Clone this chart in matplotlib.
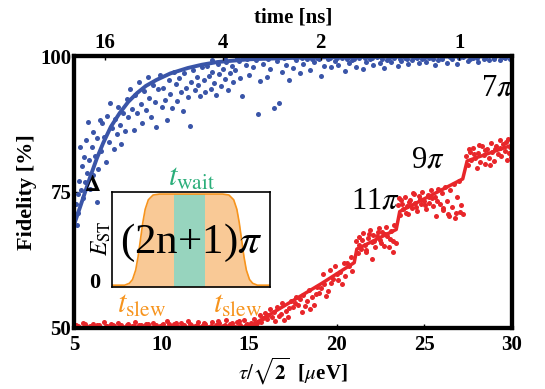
import numpy as np
import matplotlib.pyplot as plt

plt.rcParams['mathtext.fontset'] = 'stix'
plt.rcParams['font.family'] = ['Liberation Serif', 'DejaVu Serif']

# top axis: time [ns] ticks, tau scales as 1/sqrt(time)
time_ticks = [16, 4, 2, 1]
tau_per_ns = 27.0

# blue: fidelity vs tau (points)
blue_x = [5.05, 5.1, 5.15, 5.2, 5.25, 5.3, 5.35, 5.4, 5.45, 5.5, 5.55, 5.6, 5.7, 5.75, 5.8, 5.85, 5.9, 6.0, 6.05, 6.1,
          6.2, 6.3, 6.35, 6.45, 6.55, 6.6, 6.7, 6.8, 6.9, 7.0, 7.05, 7.15, 7.25, 7.35, 7.45, 7.5, 7.6, 7.7, 7.8, 7.9, 6.3,
          8.0, 8.1, 8.2, 8.3, 8.4, 8.5, 8.6, 8.7, 8.8, 8.9, 9.0, 9.1, 9.2, 9.3, 9.4, 9.5, 9.6, 9.7, 9.8, 9.9,
          10.0, 10.1, 10.2, 10.3, 10.4, 10.5, 10.6, 10.7, 10.8, 10.9, 11.0, 11.1, 11.2, 11.3, 11.4, 11.5, 11.6, 11.7,
          11.8, 11.9, 12.0,
          12.1, 12.2, 12.3, 12.4, 12.5, 12.6, 12.7, 12.8, 12.9, 13.0, 13.1, 13.2, 13.3, 13.4, 13.5, 13.6, 13.7, 13.8,
          13.9, 14.0, 14.1, 14.2, 14.4, 14.5, 14.6, 14.8, 15.0, 15.2, 15.5, 15.6, 15.8, 16.0, 16.2, 16.4, 16.6, 16.7,
          16.9, 17.1, 17.3, 17.5,
          17.7, 17.9, 18.1, 18.3, 18.5, 18.7, 18.9, 19.1, 19.3, 19.5, 19.7, 19.9, 20.1, 20.3, 20.5, 20.7, 20.9, 21.1,
          21.3, 21.5, 21.7, 21.9, 22.1, 22.3, 22.5, 22.7, 22.9, 23.1, 23.3, 23.5, 23.7, 23.9, 24.1, 24.3, 24.5, 24.7,
          24.9, 25.1, 25.3, 25.6, 25.8, 26.0, 26.3, 26.6, 26.9, 27.2, 27.5, 27.8, 28.1, 28.4, 28.7, 29.0, 29.3, 29.6,
          29.9,
          15.4, 16.1, 17.0, 18.0, 19.0, 20.0, 21.0, 22.0, 23.0, 24.0, 25.0, 26.0, 27.0, 28.0, 29.0, 29.5, 28.5, 27.6,
          26.5, 25.5, 24.6, 23.6, 22.6, 21.6, 20.6, 19.6, 18.6, 17.6, 16.6, 14.9, 14.3, 13.6, 12.9]
blue_y = [70.5, 72.8, 68.9, 74.6, 71.2, 77.1, 83.2, 75.3, 79.8, 73.9, 81.4, 76.8, 84.6, 78.5, 87.9, 80.9, 75.6, 83.3,
          78.2, 86.1, 81.7, 84.9, 79.3, 88.2, 82.6, 87.7, 85.1, 80.6, 89.0, 84.2, 91.4, 86.8, 82.9, 88.4, 85.7, 90.6,
          87.3, 83.8, 89.6, 86.2, 73.2,
          92.1, 88.7, 94.0, 90.3, 86.4, 92.8, 89.5, 95.2, 91.1, 87.6, 93.6, 90.0, 96.1, 92.3, 88.8, 94.7, 91.5, 86.9,
          93.9, 96.6, 90.7, 94.2, 92.0, 88.3, 95.6, 93.1, 90.4, 97.0, 94.8, 91.8, 95.9, 93.4, 89.9, 96.8, 94.1, 92.5,
          87.2, 95.3, 97.4, 93.8, 96.2,
          94.6, 92.7, 97.9, 95.5, 93.3, 98.2, 96.4, 94.0, 97.1, 95.0, 92.9, 98.5, 96.7, 94.4, 97.6, 95.8, 98.9, 93.7,
          96.9, 98.1, 95.3, 97.4, 99.0, 96.0, 92.6, 98.3, 96.5, 97.9, 89.3, 95.4, 98.6, 96.2, 97.7, 90.4, 99.1, 91.4,
          97.0, 98.4, 95.6, 97.8,
          99.2, 96.9, 98.6, 99.5, 97.5, 98.9, 99.6, 96.4, 98.2, 99.4, 97.9, 99.0, 98.3, 99.7, 97.2, 98.8, 99.3, 98.0,
          99.6, 97.6, 98.9, 99.4, 98.4, 99.8, 98.7, 97.8, 99.3, 98.9, 99.6, 98.2, 99.1, 99.7, 98.5, 99.3, 99.8, 98.7,
          99.5, 98.9, 99.6, 98.4, 99.2, 99.7, 98.8, 99.4, 98.6, 99.8, 99.1, 99.6, 98.9, 99.5, 99.2, 99.7, 99.3, 99.6,
          99.4,
          99.3, 99.5, 99.6, 99.7, 99.4, 99.6, 99.5, 99.6, 99.7, 99.5, 99.7, 99.4, 99.6, 99.7, 99.5, 99.8, 99.7, 99.5,
          99.8, 99.5, 99.6, 99.4, 99.5, 99.7, 99.5, 99.7, 99.4, 99.6, 99.7, 99.4, 99.6, 99.5, 99.2]

# blue fit curve
blue_fit_x = [5.0, 5.4, 5.9, 6.3, 6.66, 7.1, 7.6, 8.1, 8.6, 9.1, 9.7, 10.5, 11.5, 12.3, 13.2, 15.0, 18.0, 22.0, 26.0, 30.0]
blue_fit_y = [69.0, 72.8, 77.6, 81.2, 84.0, 87.0, 89.5, 91.6, 93.2, 94.5, 95.6, 96.8, 97.8, 98.4, 98.9, 99.4, 99.7,
              99.85, 99.9, 99.95]

# red: fidelity vs tau (points)
red_x = [5.1, 5.3, 5.5, 5.7, 5.9, 6.1, 6.3, 6.5, 6.7, 6.9, 7.1, 7.3, 7.5, 7.7, 7.9, 8.1, 8.3, 8.5, 8.7, 8.9, 9.1,
         9.3, 9.5, 9.7, 9.9, 10.1, 10.3, 10.5, 10.7, 10.9, 11.1, 11.3, 11.5, 11.7, 11.9, 12.1, 12.3, 12.5, 12.7,
         12.9, 13.1, 13.3, 13.5, 13.7, 13.9, 14.1, 14.3, 14.5, 14.7, 14.9,
         5.2, 5.6, 6.0, 6.4, 6.8, 7.2, 7.6, 8.0, 8.4, 8.8, 9.2, 9.6, 10.0, 10.4, 10.8, 11.2, 11.6, 12.0, 12.4, 12.8,
         13.2, 13.6, 14.0, 14.4, 14.8,
         15.1, 15.3, 15.4, 15.6, 15.7, 15.9, 16.0, 16.2, 16.3, 16.5, 16.6, 16.8, 16.9, 17.1, 17.2, 17.4, 17.5, 17.7,
         17.8, 18.0, 18.1, 18.3, 18.4, 18.6, 18.7, 18.9, 19.0, 19.2, 19.3, 19.5, 19.6, 19.8, 19.9, 20.1, 20.2, 20.4,
         20.5, 20.7, 20.8, 20.9, 17.0, 18.5, 19.4,
         15.5, 15.8, 16.1, 16.4, 16.7, 17.3, 17.6, 17.9, 18.2, 18.8, 19.1, 19.7, 20.0, 20.3, 20.6,
         21.1, 21.2, 21.3, 21.4, 21.5, 21.6, 21.7, 21.8, 21.9, 22.0, 22.1, 22.2, 22.3, 22.4, 22.5, 22.6, 22.7, 22.8,
         22.9, 23.0, 23.1, 23.2, 23.3, 23.4, 22.0, 23.2,
         21.25, 21.45, 21.65, 21.85, 22.15, 22.35, 22.55, 22.75, 23.05,
         23.5, 23.6, 23.7, 23.8, 23.9, 24.0, 24.1, 24.2, 24.3, 24.4, 24.5, 24.6, 24.7, 24.8, 24.9, 25.0, 25.1, 25.2,
         25.3, 25.4, 25.5, 25.6, 25.7, 25.8, 25.9, 26.0, 26.1, 26.2, 26.3, 26.4, 26.5, 26.6, 26.7, 26.8, 26.9, 27.0,
         27.1, 27.2,
         23.55, 23.75, 23.95, 24.15, 24.35, 24.55, 24.75, 25.05, 25.25, 25.45, 25.75, 26.05, 26.35, 26.75, 27.05,
         27.4, 27.5, 27.6, 27.7, 27.8, 27.9, 28.0, 28.1, 28.2, 28.3, 28.4, 28.5, 28.6, 28.7, 28.8, 28.9, 29.0, 29.1,
         29.2, 29.3, 29.4, 29.5, 29.6, 29.7, 29.8, 29.9, 29.95,
         27.55, 27.85, 28.15, 28.45, 28.75, 29.05, 29.35, 29.65, 29.85]
red_y = [50.6, 50.2, 50.9, 50.4, 50.3, 50.8, 50.5, 50.2, 51.0, 50.4, 50.7, 50.3, 50.9, 50.5, 50.2, 50.8, 50.4, 51.1,
         50.6, 50.3, 50.7, 50.2, 50.9, 50.5, 50.3, 50.8, 51.2, 50.4, 50.7, 50.3, 50.9, 50.5, 51.3, 50.6, 50.3, 51.0,
         50.4, 50.8, 50.2, 51.1, 50.6, 50.9, 50.4, 51.4, 50.7, 50.3, 51.0, 50.6, 51.5, 50.8,
         50.4, 50.7, 50.3, 50.6, 50.3, 50.5, 50.2, 50.6, 50.3, 50.5, 50.8, 50.3, 50.5, 50.7, 50.9, 50.4, 50.8, 50.5,
         50.9, 50.4, 51.2, 50.5, 50.9, 51.3, 50.6,
         50.9, 51.6, 50.5, 52.3, 51.1, 52.8, 51.6, 53.4, 52.0, 51.2, 53.9, 52.6, 54.5, 53.2, 52.1, 55.0, 53.8, 55.6,
         54.3, 53.0, 56.1, 55.0, 57.0, 55.6, 54.2, 57.6, 56.5, 59.9, 58.0, 56.7, 60.6, 59.0, 61.4, 58.8, 60.3, 62.0,
         59.6, 61.3, 63.1, 60.5, 51.5, 53.4, 55.8,
         51.0, 51.9, 52.4, 52.9, 52.2, 53.6, 54.6, 55.3, 54.0, 56.2, 57.3, 58.3, 60.0, 58.1, 61.9,
         65.9, 63.8, 66.8, 64.6, 67.4, 65.3, 63.9, 66.5, 68.0, 65.8, 67.1, 64.8, 66.9, 68.3, 66.2, 67.6, 65.1, 68.6,
         66.9, 64.9, 67.8, 66.0, 69.0, 65.6, 62.7, 63.9,
         65.3, 66.2, 64.4, 67.2, 65.9, 67.7, 65.6, 67.3, 66.4,
         72.6, 70.8, 73.5, 71.9, 74.1, 72.4, 70.9, 73.6, 72.1, 74.6, 73.0, 71.5, 74.2, 72.8, 75.0, 73.4, 71.9, 74.5,
         73.0, 75.4, 72.4, 74.1, 70.6, 75.6, 72.8, 74.9, 71.6, 76.0, 73.4, 70.5, 75.3, 72.2, 76.5, 71.2, 74.0, 77.0,
         72.6, 70.9,
         73.9, 72.7, 71.1, 73.2, 74.9, 72.2, 73.7, 72.6, 74.0, 73.8, 73.3, 72.1, 71.0, 70.2, 71.4,
         81.6, 79.9, 82.4, 80.8, 83.0, 81.3, 79.4, 82.1, 80.6, 83.4, 81.8, 80.2, 82.9, 81.2, 84.0, 82.4, 80.7, 83.5,
         82.0, 84.5, 81.6, 83.8, 82.6, 80.9, 84.8, 83.2, 81.5,
         82.9, 81.9, 83.6, 82.7, 79.9, 82.9, 83.0, 84.2, 82.2]

# red fit (stepwise)
red_fit_x = [5.0, 15.0, 19.1, 21.0, 21.15, 23.4, 23.6, 27.2, 27.45, 30.0]
red_fit_y = [50.0, 50.2, 58.1, 62.0, 64.5, 68.1, 71.4, 77.4, 80.7, 83.6]

# step labels
step_labels = ['11$\\pi$', '9$\\pi$', '7$\\pi$']
step_label_x = [22.2, 25.2, 29.2]
step_label_y = [73.4, 80.9, 94.1]

# inset pulse shape
pulse_x = [0, 0.08, 0.11, 0.13, 0.15, 0.165, 0.18, 0.195, 0.21, 0.23, 0.26, 0.30,
           0.70, 0.74, 0.77, 0.79, 0.805, 0.82, 0.835, 0.85, 0.87, 0.89, 0.92, 1.0]
pulse_y = [0.02, 0.02, 0.04, 0.08, 0.18, 0.32, 0.50, 0.68, 0.82, 0.92, 0.97, 0.98,
           0.98, 0.97, 0.92, 0.82, 0.68, 0.50, 0.32, 0.18, 0.08, 0.04, 0.02, 0.02]
wait_band = [0.39, 0.59]

blue = '#3A55A8'
red = '#E8262A'
orange = '#F7941D'
green = '#2BAE7A'

fig = plt.figure(figsize=(5.45, 3.89), dpi=100)
ax = fig.add_axes([0.136, 0.157, 0.803, 0.699])

ax.scatter(blue_x, blue_y, s=13, color=blue, linewidths=0, zorder=3)
ax.plot(blue_fit_x, blue_fit_y, color=blue, lw=2.8, zorder=4)
ax.scatter(red_x, red_y, s=13, color=red, linewidths=0, zorder=3)
ax.plot(red_fit_x, red_fit_y, color=red, lw=2.5, zorder=4)

for lab, lx, ly in zip(step_labels, step_label_x, step_label_y):
    ax.text(lx, ly, lab, fontsize=22, ha='center', va='center')

ax.set_xlim(5, 30)
ax.set_ylim(50, 100)
ax.set_xticks([5, 10, 15, 20, 25, 30])
ax.set_yticks([50, 75, 100])
ax.tick_params(direction='in', length=3, width=1, labelsize=15, pad=2)
ax.tick_params(axis='x', pad=5)
for lab in ax.get_xticklabels() + ax.get_yticklabels():
    lab.set_fontweight('bold')
for sp in ax.spines.values():
    sp.set_linewidth(3)
ax.set_xlabel('$\\tau/\\sqrt{\\mathbf{2}}$  [$\\mu$eV]', fontsize=15, fontweight='bold', labelpad=1)
ax.set_ylabel('Fidelity [%]', fontsize=16, fontweight='bold', labelpad=2)

ax2 = ax.twiny()
ax2.set_xlim(ax.get_xlim())
ax2.set_xticks(tau_per_ns / np.sqrt(np.array(time_ticks, dtype=float)))
ax2.set_xticklabels([str(t) for t in time_ticks], fontsize=15, fontweight='bold')
ax2.tick_params(direction='in', length=3, width=1, pad=2)
ax2.set_xlabel('time [ns]', fontsize=15, fontweight='bold', labelpad=8)
for sp in ax2.spines.values():
    sp.set_linewidth(3)

# inset
ins = fig.add_axes([0.2055, 0.262, 0.29, 0.244])
ins.fill_between(pulse_x, 0, pulse_y, color='#F9C996', lw=0)
ins.fill_between(wait_band, 0, 0.98, color='#97D4BE', lw=0)
ins.plot(pulse_x, pulse_y, color=orange, lw=1.2)
ins.set_xlim(0, 1)
ins.set_ylim(0, 1)
ins.set_xticks([])
ins.set_yticks([])
for sp in ins.spines.values():
    sp.set_linewidth(1.2)
ins.text(0.5, 0.47, '(2n+1)$\\pi$', fontsize=31, ha='center', va='center', transform=ins.transAxes)

fig.text(92 / 545, 1 - 186 / 389, '$\\mathbf{\\Delta}$', fontsize=16, ha='center', va='center')
fig.text(95 / 545, 1 - 283 / 389, '0', fontsize=16, fontweight='bold', ha='center', va='center')
fig.text(101 / 545, 1 - 238 / 389, '$E_{\\mathrm{ST}}$', fontsize=17, rotation=90, ha='center', va='center')
fig.text(192 / 545, 1 - 178 / 389, '$t_{\\mathrm{wait}}$', fontsize=22, color=green, ha='center', va='center')
fig.text(142 / 545, 1 - 305 / 389, '$t_{\\mathrm{slew}}$', fontsize=22, color=orange, ha='center', va='center')
fig.text(238 / 545, 1 - 305 / 389, '$t_{\\mathrm{slew}}$', fontsize=22, color=orange, ha='center', va='center')

fig.savefig('out.png', dpi=100)
